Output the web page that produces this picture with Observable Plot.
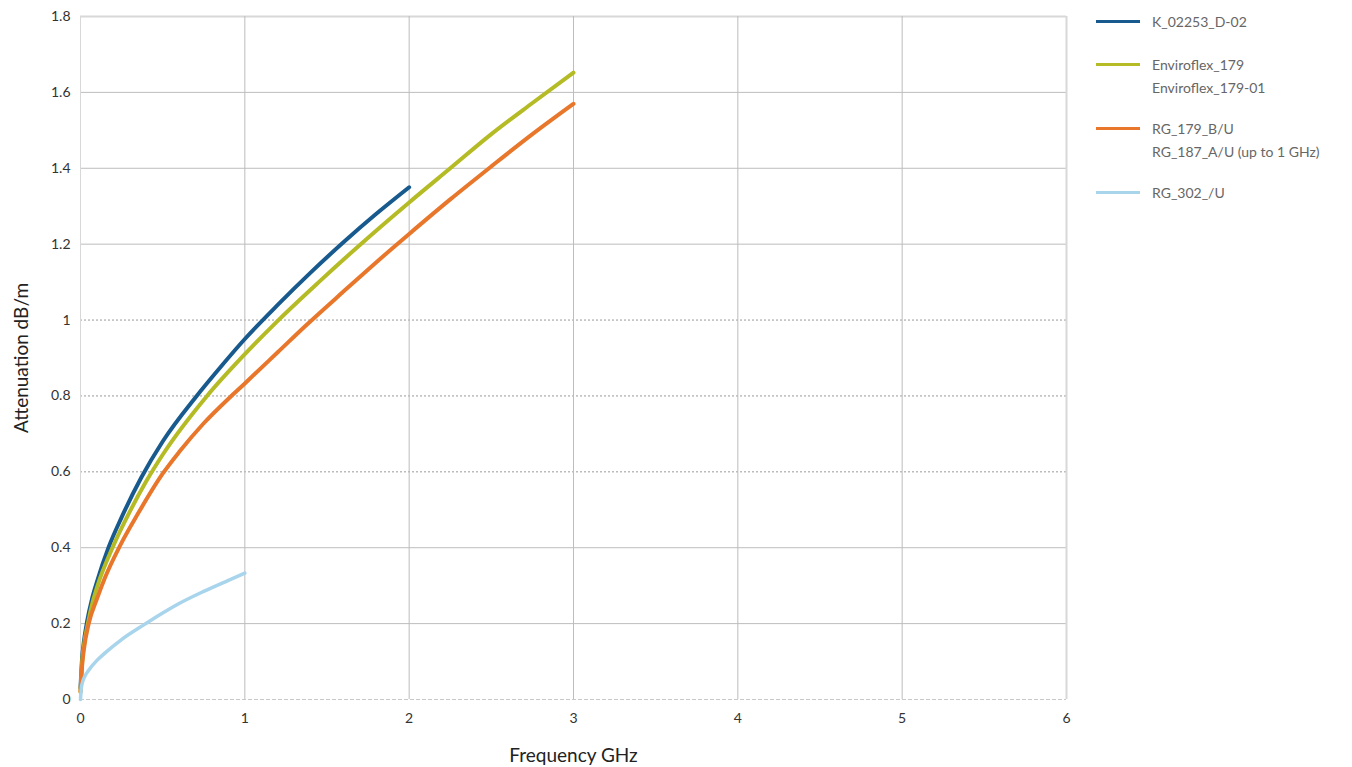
<!DOCTYPE html>
<html>
<head>
<meta charset="utf-8">
<script src="https://cdn.jsdelivr.net/npm/d3@7"></script>
<script src="https://cdn.jsdelivr.net/npm/@observablehq/plot@0.6"></script>
<style>
  html, body { margin: 0; padding: 0; background: #fff; }
  #wrap { position: relative; width: 1352px; height: 767px; font-family: Lato, "Noto Sans", sans-serif; }
  #chart svg { font-family: Lato, "Noto Sans", sans-serif; }
  #chart svg [aria-label="y-axis label"], #chart svg [aria-label="x-axis label"] { font-size: 19px; fill: #222; }
  #legend { position: absolute; left: 1096px; top: 12px; font-size: 14px; color: #666; white-space: nowrap; }
  .item { position: relative; }
  .swatch { position: absolute; left: 0; top: 8px; width: 44px; height: 3px; }
  .lbl { position: absolute; left: 56px; top: -2px; line-height: 23px; }
</style>
</head>
<body>
<div id="wrap"><div id="chart"></div><div id="legend"></div></div>
<script>
// ---- data ----
const seriesNames = ["K_02253_D-02", "Enviroflex_179", "RG_179_B/U", "RG_302_/U"];
const legendLabels = [["K_02253_D-02"], ["Enviroflex_179", "Enviroflex_179-01"], ["RG_179_B/U", "RG_187_A/U (up to 1 GHz)"], ["RG_302_/U"]];
const colors = ["#185a8d", "#b5bb24", "#e8772b", "#a8d4ec"];

const k02253Freq = [0, 0.01, 0.02, 0.04, 0.07, 0.1, 0.17, 0.25, 0.37, 0.5, 0.707, 0.85, 1.0, 1.2, 1.4, 1.6, 1.8, 2.0];
const k02253Att  = [0.03, 0.11, 0.15, 0.205, 0.265, 0.31, 0.4, 0.48, 0.585, 0.68, 0.8, 0.875, 0.95, 1.04, 1.125, 1.205, 1.28, 1.35];

const enviroFreq = [0, 0.01, 0.02, 0.045, 0.07, 0.1, 0.2, 0.3, 0.4, 0.5, 0.77, 1.0, 1.2, 1.45, 1.7, 2.0, 2.25, 2.5, 2.75, 3.0];
const enviroAtt  = [0.02, 0.1, 0.14, 0.2, 0.25, 0.295, 0.405, 0.495, 0.575, 0.645, 0.8, 0.91, 0.998, 1.1, 1.198, 1.31, 1.4, 1.49, 1.572, 1.652];

const rg179Freq = [0, 0.01, 0.02, 0.05, 0.1, 0.15, 0.24, 0.35, 0.5, 0.6, 0.75, 0.918, 1.0, 1.2, 1.37, 1.6, 1.9, 2.0, 2.25, 2.5, 2.75, 3.0];
const rg179Att  = [0.02, 0.09, 0.13, 0.2, 0.265, 0.322, 0.405, 0.49, 0.595, 0.652, 0.728, 0.8, 0.833, 0.915, 0.985, 1.075, 1.19, 1.227, 1.318, 1.405, 1.49, 1.57];

const rg302Freq = [0, 0.005, 0.01, 0.025, 0.05, 0.1, 0.15, 0.25, 0.39, 0.5, 0.6, 0.75, 0.9, 1.0];
const rg302Att  = [0, 0.03, 0.042, 0.06, 0.077, 0.103, 0.123, 0.158, 0.198, 0.228, 0.253, 0.285, 0.314, 0.333];

const xTicks = [0, 1, 2, 3, 4, 5, 6];
const yTicks = [0, 0.2, 0.4, 0.6, 0.8, 1, 1.2, 1.4, 1.6, 1.8];
const solidGridY = [0.2, 0.4, 1.2, 1.4, 1.6];
const dottedGridY = [0.6, 0.8, 1.0];
const gridX = [1, 2, 3, 4, 5];

// ---- build table ----
const freqs = [k02253Freq, enviroFreq, rg179Freq, rg302Freq];
const atts = [k02253Att, enviroAtt, rg179Att, rg302Att];
const rows = [];
seriesNames.forEach((s, i) => freqs[i].forEach((f, j) => rows.push({series: s, f, a: atts[i][j]})));

const chart = Plot.plot({
  width: 1352,
  height: 767,
  marginLeft: 80,
  marginRight: 286,
  marginTop: 16,
  marginBottom: 68,
  style: {fontSize: "14px", color: "#333", background: "#fff"},
  x: {domain: [0, 6], ticks: xTicks, tickFormat: d => String(d), label: "Frequency GHz", labelArrow: "none", labelAnchor: "center", labelOffset: 62, tickSize: 0, tickPadding: 14},
  y: {domain: [0, 1.8], ticks: yTicks, tickFormat: d => String(+d.toFixed(1)), label: "Attenuation dB/m", labelArrow: "none", labelAnchor: "center", labelOffset: 66, tickSize: 0, tickPadding: 10},
  color: {domain: seriesNames, range: colors},
  marks: [
    Plot.ruleY(solidGridY, {stroke: "#bdbdbd", strokeWidth: 1}),
    Plot.ruleY(dottedGridY, {stroke: "#9a9a9a", strokeWidth: 1, strokeDasharray: "2,2"}),
    Plot.ruleY([1.8], {stroke: "#d8d8d8", strokeWidth: 2}),
    Plot.ruleY([0], {stroke: "#c8c8c8", strokeWidth: 1, strokeDasharray: "4,2"}),
    Plot.ruleX(gridX, {stroke: "#bdbdbd", strokeWidth: 1}),
    Plot.ruleX([6], {stroke: "#d8d8d8", strokeWidth: 2}),
    Plot.ruleX([0], {stroke: "#d8d8d8", strokeWidth: 1}),
    Plot.line(rows, {x: "f", y: "a", z: "series", stroke: "series", strokeWidth: d => d.series === "RG_302_/U" ? 3.5 : 4, curve: "monotone-x", strokeLinecap: "round"})
  ]
});
document.getElementById("chart").appendChild(chart);

// ---- legend ----
const legend = document.getElementById("legend");
seriesNames.forEach((s, i) => {
  const item = document.createElement("div");
  item.className = "item";
  item.style.height = legendLabels[i].length > 1 ? "64px" : "43px";
  const sw = document.createElement("div");
  sw.className = "swatch";
  sw.style.background = colors[i];
  item.appendChild(sw);
  const lbl = document.createElement("div");
  lbl.className = "lbl";
  lbl.innerHTML = legendLabels[i].join("<br>");
  item.appendChild(lbl);
  legend.appendChild(item);
});
</script>
</body>
</html>
